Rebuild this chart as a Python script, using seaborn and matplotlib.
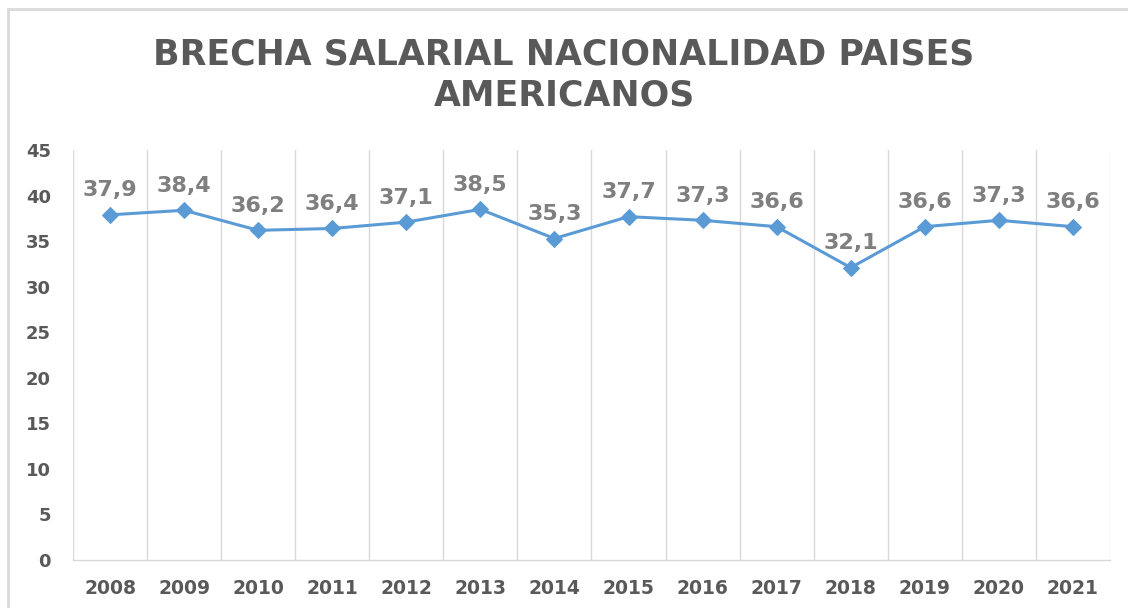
import matplotlib
matplotlib.use("Agg")
import matplotlib.pyplot as plt
import seaborn as sns
import numpy as np
import pandas as pd
from matplotlib.patches import Rectangle

years = ["2008", "2009", "2010", "2011", "2012", "2013", "2014",
         "2015", "2016", "2017", "2018", "2019", "2020", "2021"]
values = [37.9, 38.4, 36.2, 36.4, 37.1, 38.5, 35.3,
          37.7, 37.3, 36.6, 32.1, 36.6, 37.3, 36.6]
value_labels = ["37,9", "38,4", "36,2", "36,4", "37,1", "38,5", "35,3",
                "37,7", "37,3", "36,6", "32,1", "36,6", "37,3", "36,6"]
yticks = [0, 5, 10, 15, 20, 25, 30, 35, 40, 45]
title = "BRECHA SALARIAL NACIONALIDAD PAISES\nAMERICANOS"

sns.set_theme(style="white")
plt.rcParams['font.family'] = ['DejaVu Sans']

df = pd.DataFrame({"pos": np.arange(len(years)), "val": values})

fig = plt.figure(figsize=(11.28, 6.08), dpi=100)
ax = fig.add_axes([0.0647, 0.079, 0.9193, 0.674])

line_color = "#5B9BD5"
sns.lineplot(data=df, x="pos", y="val", ax=ax, color=line_color, linewidth=2.2,
             marker="D", markersize=8, markeredgecolor=line_color)

n = len(years)
ax.set_xlim(-0.5, n - 0.5)
ax.set_ylim(0, 45)

# vertical category gridlines
for b in np.arange(n + 1) - 0.5:
    ax.axvline(b, color="#D9D9D9", linewidth=1, zorder=0)

for s in ["top", "right", "left"]:
    ax.spines[s].set_visible(False)
ax.spines["bottom"].set_color("#D9D9D9")
ax.spines["bottom"].set_linewidth(1)

ax.set_xticks(np.arange(n))
ax.set_xticklabels(years, fontsize=13.5, fontweight="bold", color="#595959")
ax.set_yticks(yticks)
ax.set_yticklabels([str(t) for t in yticks], fontsize=13, fontweight="bold", color="#595959")
ax.tick_params(axis="x", length=0, pad=14)
ax.tick_params(axis="y", length=0, pad=16)
ax.set_xlabel("")
ax.set_ylabel("")

for i, (v, lab) in enumerate(zip(values, value_labels)):
    ax.annotate(lab, (i, v), xytext=(0, 10.5), textcoords="offset points",
                ha="center", va="bottom", fontsize=16, fontweight="bold",
                color="#7F7F7F")

fig.text(0.5, 0.877, title, ha="center", va="center", fontsize=25,
         fontweight="bold", color="#595959", linespacing=1.25)

fig.patches.append(Rectangle((8 / 1128, -0.1), 1.2, 1.1 - 9 / 608,
                             transform=fig.transFigure, fill=False,
                             edgecolor="#D9D9D9", linewidth=2))

fig.savefig("out.png", dpi=100, facecolor="white")
